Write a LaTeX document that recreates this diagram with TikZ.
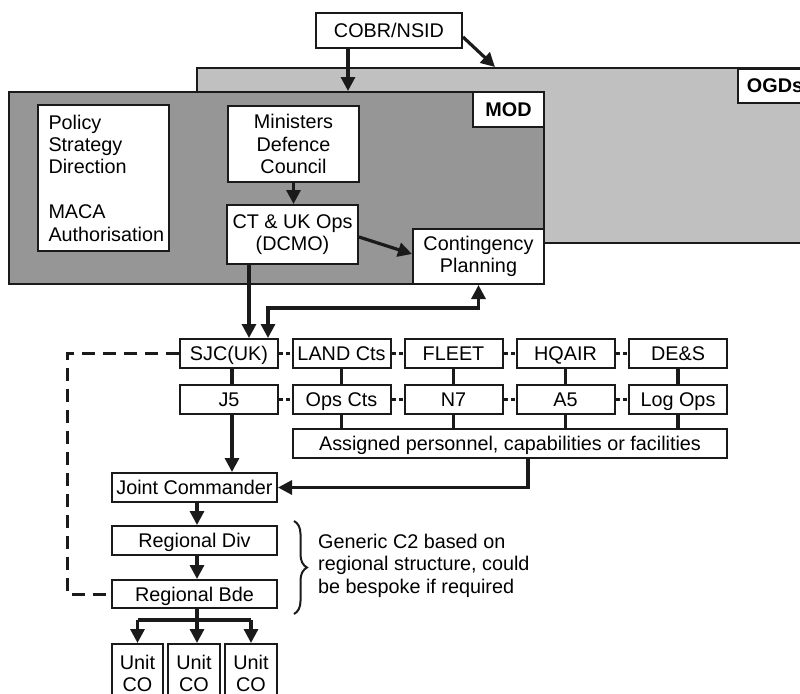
\documentclass[tikz,border=0pt]{standalone}
\usepackage{fontspec}
\setmainfont{Liberation Sans}
\usetikzlibrary{arrows.meta,decorations.pathreplacing,calc}
\definecolor{ogdgray}{HTML}{C0C0C0}
\definecolor{modgray}{HTML}{969696}
\definecolor{ink}{HTML}{1A1A1A}
\tikzset{
  txt/.style={font=\fontsize{19.8}{22.4}\selectfont, text=black},
  bx/.style={txt, draw=ink, fill=white, line width=2pt, inner sep=0pt, align=center},
  sbx/.style={bx, text height=14pt, text depth=0pt},
  rowbox/.style={sbx, minimum width=98pt, minimum height=29pt},
  area/.style={draw=ink, line width=2pt, inner sep=0pt},
  arr/.style={draw=ink, line width=3.2pt, -{Triangle[width=14pt,length=14pt]}},
  darr/.style={draw=ink, line width=3.2pt, {Triangle[width=14pt,length=14pt]}-{Triangle[width=14pt,length=14pt]}},
  link/.style={draw=ink, line width=3.2pt},
  dotlink/.style={draw=ink, line width=2.8pt, dash pattern=on 4pt off 3pt},
  longdash/.style={draw=ink, line width=3pt, dash pattern=on 13pt off 8pt},
}
\begin{document}
\begin{tikzpicture}[x=1pt,y=-1pt]
\useasboundingbox (0,0) rectangle (800,693);
\clip (0,0) rectangle (800,693);

% areas
\node[area, fill=ogdgray, minimum width=623pt, minimum height=175pt] (ogd) at (508.5,155.5) {};
\node[bx, minimum width=74pt, minimum height=34pt, anchor=north west] (ogdlabel) at (737,68) {\bfseries OGDs};
\node[area, fill=modgray, minimum width=535pt, minimum height=192pt] (mod) at (276.5,188) {};
\node[sbx, minimum width=71pt, minimum height=35pt] (modlabel) at (508.5,109.5) {\bfseries MOD};

% top nodes
\node[sbx, minimum width=146pt, minimum height=35pt] (cobr) at (389,30.5) {COBR/NSID};
\node[bx, align=left, text width=110pt, minimum width=131pt, minimum height=146pt] (policy) at (103.5,178)
  {Policy\\Strategy\\Direction\\[22.4pt]MACA\\Authorisation};
\node[bx, minimum width=131pt, minimum height=76pt] (min) at (293.5,144) {Ministers\\Defence\\Council};
\node[bx, minimum width=131pt, minimum height=59pt] (ct) at (292.5,234.5) {CT \& UK Ops\\(DCMO)};
\node[bx, minimum width=131pt, minimum height=55pt] (cont) at (478.5,256.5) {Contingency\\Planning};

% row 1
\node[rowbox] (sjc)  at (229,353.5) {SJC(UK)};
\node[rowbox] (land) at (341.5,353.5) {LAND Cts};
\node[rowbox] (fleet) at (453.5,353.5) {FLEET};
\node[rowbox] (hqair) at (565.5,353.5) {HQAIR};
\node[rowbox] (des) at (678,353.5) {DE\&S};
% row 2
\node[rowbox] (j5)  at (229,399.5) {J5};
\node[rowbox] (ops) at (341.5,399.5) {Ops Cts};
\node[rowbox] (n7)  at (453.5,399.5) {N7};
\node[rowbox] (a5)  at (565.5,399.5) {A5};
\node[rowbox] (log) at (678,399.5) {Log Ops};
% assigned
\node[sbx, minimum width=434pt, minimum height=29pt] (asg) at (510,443.5) {Assigned personnel, capabilities or facilities};

% chain
\node[sbx, minimum width=165pt, minimum height=29pt] (jc) at (194.5,487.5) {Joint Commander};
\node[sbx, minimum width=165pt, minimum height=29pt] (rd) at (194.5,540.5) {Regional Div};
\node[sbx, minimum width=165pt, minimum height=28pt] (rb) at (194.5,594) {Regional Bde};
\node[bx, anchor=north, minimum width=51pt, inner ysep=11pt] (u1) at (137.5,643) {Unit\\CO};
\node[bx, anchor=north, minimum width=52pt, inner ysep=11pt] (u2) at (194,643) {Unit\\CO};
\node[bx, anchor=north, minimum width=52pt, inner ysep=11pt] (u3) at (251,643) {Unit\\CO};

\node[txt, anchor=north west, inner sep=0pt, align=left] (gen) at (318,534)
  {Generic C2 based on\\regional structure, could\\be bespoke if required};
\draw[ink, line width=2pt, decorate, decoration={brace, amplitude=13pt}] (294,521) -- (294,614);

% connectors top
\draw[arr] ([xshift=-41pt]cobr.south) -- ([xshift=-41pt]cobr.south |- mod.north);
\draw[arr] ([yshift=-6.5pt]cobr.east) -- ($(ogd.north west)+(299,0)$);
\draw[arr] (min.south) -- (min.south |- ct.north);
\draw[arr] ([yshift=-2.5pt]ct.east) -- ([yshift=2.5pt]cont.west);
\draw[arr] ([xshift=-43.5pt]ct.south) -- ([xshift=-43.5pt]ct.south |- sjc.north);
\draw[darr] ([xshift=39pt]sjc.north) -- ++(0,-30) -| (cont.south);

% row links
\foreach \a/\b in {sjc/land,land/fleet,fleet/hqair,hqair/des,j5/ops,ops/n7,n7/a5,a5/log}
  \draw[dotlink] (\a.east) -- (\b.west);
\draw[link] ([xshift=3pt]sjc.south) -- ([xshift=3pt]j5.north);
\foreach \a/\b in {land/ops,fleet/n7,hqair/a5,des/log}
  \draw[link] (\a.south) -- (\b.north);
\foreach \b in {ops,n7,a5,log}
  \draw[link] (\b.south) -- (\b.south |- asg.north);

% chain connectors
\draw[arr] ([xshift=3pt]j5.south) -- ([xshift=3pt]j5.south |- jc.north);
\draw[arr] ([xshift=18pt]asg.south) |- (jc.east);
\draw[arr] ([xshift=2.5pt]jc.south) -- ([xshift=2.5pt]jc.south |- rd.north);
\draw[arr] ([xshift=2.5pt]rd.south) -- ([xshift=2.5pt]rd.south |- rb.north);
\draw[link] ([xshift=2.5pt]rb.south) -- ++(0,11) coordinate (br);
\draw[link] (u1.north |- br) -- (u3.north |- br);
\draw[arr] (u1.north |- br) -- (u1.north);
\draw[arr] (br) -- (br |- u2.north);
\draw[arr] (u3.north |- br) -- (u3.north);

% long dashed link
\draw[longdash] (sjc.west) -- ++(-112,0) |- (rb.west);
\end{tikzpicture}
\end{document}
